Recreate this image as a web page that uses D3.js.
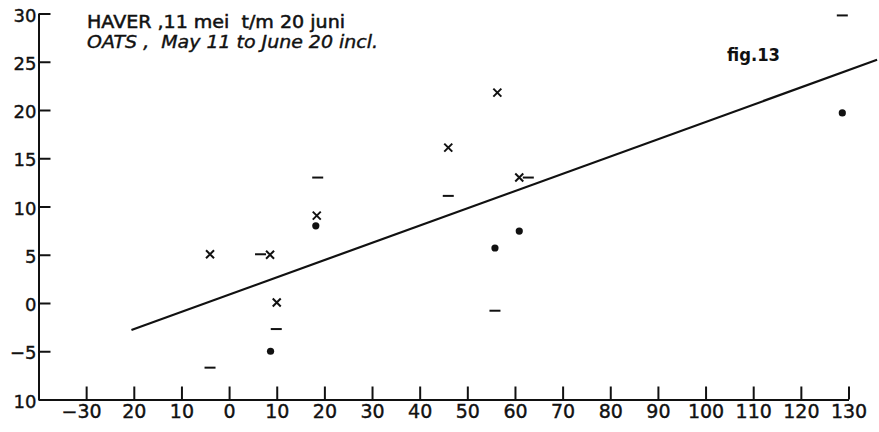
<!DOCTYPE html>
<html>
<head>
<meta charset="utf-8">
<script src="https://cdn.jsdelivr.net/npm/d3@7"></script>
<style>
  html, body { margin: 0; padding: 0; background: #fff; }
  svg { display: block; }
</style>
</head>
<body>
<div id="chart"></div>
<script>
// data (x, y)
const crosses = [[-4, 5.05], [8.6, 5.0], [10, 0.05], [18.4, 9.05], [46, 16.1], [56.3, 21.8], [60.9, 13.0]];
const dots = [[8.7, -5.0], [18.2, 8.0], [55.8, 5.7], [60.9, 7.45], [128.7, 19.7]];
const dashes = [[-4, -6.7], [6.6, 5.05], [9.9, -2.7], [18.6, 13.0], [46, 11.1], [55.8, -0.8], [62.8, 13.0], [128.7, 29.8]];
const fitLine = [[-20.5, -2.8], [136, 25.2]];

const xTicks = [-30, -20, -10, 0, 10, 20, 30, 40, 50, 60, 70, 80, 90, 100, 110, 120, 130];
// tick labels exactly as printed on the original
const xTickLabels = ["−30", "20", "10", "0", "10", "20", "30", "40", "50", "60", "70", "80", "90", "100", "110", "120", "130"];
const yTicks = [-10, -5, 0, 5, 10, 15, 20, 25, 30];
const yTickLabels = ["10", "−5", "0", "5", "10", "15", "20", "25", "30"];

const titleNl = "HAVER ,11 mei  t/m 20 juni";
const titleEn = "OATS ,  May 11 to June 20 incl.";
const figLabel = "fig.13";

const width = 879, height = 432;
const ink = "#111";

const svg = d3.select("#chart").append("svg")
  .attr("width", width)
  .attr("height", height);

const x = d3.scaleLinear().domain([-40, 130]).range([38.5, 848.5]);
const y = d3.scaleLinear().domain([-10, 30]).range([399.5, 13.5]);

// axes
const xAxis = svg.append("g")
  .attr("transform", `translate(0,${y(-10)})`)
  .call(d3.axisBottom(x)
    .tickValues(xTicks)
    .tickSize(-13)
    .tickSizeOuter(0)
    .tickPadding(5.5)
    .tickFormat((d, i) => xTickLabels[i]));

xAxis.attr("font-family", "'DejaVu Sans', sans-serif").attr("font-size", 19);
xAxis.selectAll("path, line").attr("stroke", ink).attr("stroke-width", 2);
xAxis.selectAll("text").attr("fill", ink)
  .attr("stroke", ink).attr("stroke-width", 0.4)
  .attr("dx", (d, i) => (xTickLabels[i].startsWith("−") ? -5 : 0));

const yAxis = svg.append("g")
  .attr("transform", `translate(${x(-40)},0)`)
  .call(d3.axisLeft(y)
    .tickValues(yTicks)
    .tickSize(-12)
    .tickSizeOuter(0)
    .tickPadding(2)
    .tickFormat((d, i) => yTickLabels[i]));

yAxis.attr("font-family", "'DejaVu Sans', sans-serif").attr("font-size", 18);
yAxis.selectAll("path, line").attr("stroke", ink).attr("stroke-width", 2);
yAxis.selectAll("text").attr("fill", ink)
  .attr("stroke", ink).attr("stroke-width", 0.4)
  .attr("dy", "0.42em");

// regression line
svg.append("path")
  .datum(fitLine)
  .attr("fill", "none")
  .attr("stroke", ink)
  .attr("stroke-width", 2.2)
  .attr("d", d3.line().x(d => x(d[0])).y(d => y(d[1])));

// markers
svg.append("g").selectAll("path")
  .data(crosses)
  .join("path")
  .attr("transform", d => `translate(${x(d[0])},${y(d[1])})`)
  .attr("d", "M-4,-4L4,4M-4,4L4,-4")
  .attr("stroke", ink)
  .attr("stroke-width", 2)
  .attr("fill", "none");

svg.append("g").selectAll("circle")
  .data(dots)
  .join("circle")
  .attr("cx", d => x(d[0]))
  .attr("cy", d => y(d[1]))
  .attr("r", 3.6)
  .attr("fill", ink);

svg.append("g").selectAll("line")
  .data(dashes)
  .join("line")
  .attr("x1", d => x(d[0]) - 5.5)
  .attr("x2", d => x(d[0]) + 5.5)
  .attr("y1", d => y(d[1]))
  .attr("y2", d => y(d[1]))
  .attr("stroke", ink)
  .attr("stroke-width", 2);

// titles
svg.append("text")
  .attr("x", 87).attr("y", 28)
  .attr("font-family", "'DejaVu Sans', sans-serif")
  .attr("font-size", 17)
  .attr("textLength", 258)
  .attr("lengthAdjust", "spacingAndGlyphs")
  .attr("fill", ink)
  .attr("stroke", ink).attr("stroke-width", 0.5)
  .style("white-space", "pre")
  .text(titleNl);

svg.append("text")
  .attr("x", 87).attr("y", 48)
  .attr("font-family", "'DejaVu Sans', sans-serif")
  .attr("font-size", 17)
  .attr("font-style", "italic")
  .attr("textLength", 291)
  .attr("lengthAdjust", "spacingAndGlyphs")
  .attr("fill", ink)
  .attr("stroke", ink).attr("stroke-width", 0.4)
  .style("white-space", "pre")
  .text(titleEn);

svg.append("text")
  .attr("x", 727).attr("y", 61)
  .attr("font-family", "'DejaVu Sans', sans-serif")
  .attr("font-size", 17)
  .attr("font-weight", "bold")
  .attr("textLength", 53)
  .attr("lengthAdjust", "spacingAndGlyphs")
  .attr("fill", ink)
  .text(figLabel);
</script>
</body>
</html>
